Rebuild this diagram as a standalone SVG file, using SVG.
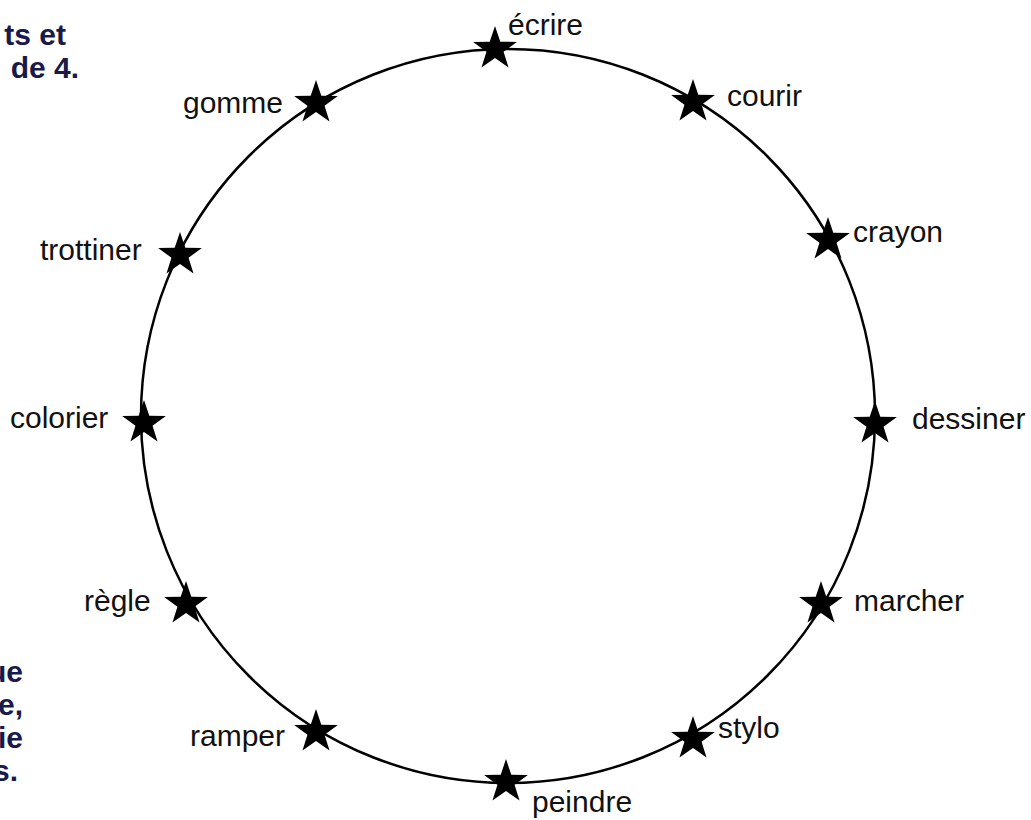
<svg xmlns="http://www.w3.org/2000/svg" width="1031" height="820" viewBox="0 0 1031 820">
<style>
.lbl{font-family:"Liberation Sans",Arial,sans-serif;font-size:30px;fill:#111}
.bold{font-family:"Liberation Sans",Arial,sans-serif;font-size:30px;font-weight:bold;fill:#1a1a4a;text-anchor:end}
.star{fill:#000}
</style>
<defs>
<polygon id="star" points="0,-23 5.29,-7.28 21.87,-7.11 8.56,2.78 13.52,18.61 0,9 -13.52,18.61 -8.56,2.78 -21.87,-7.11 -5.29,-7.28"/>
</defs>
<rect width="1031" height="820" fill="#fff"/>
<g id="side-text">
<text class="bold" x="66" y="45">ts et</text>
<text class="bold" x="79" y="78">de 4.</text>
<text class="bold" x="23" y="682">ue</text>
<text class="bold" x="23" y="715">e,</text>
<text class="bold" x="23" y="748">ie</text>
<text class="bold" x="18" y="781">s.</text>
</g>
<g id="connectors">
<circle cx="508" cy="416" r="367" fill="none" stroke="#000" stroke-width="2.5"/>
</g>
<g id="n-ecrire"><use href="#star" x="495" y="49" class="star"/><text class="lbl" x="508" y="35">écrire</text></g>
<g id="n-courir"><use href="#star" x="693" y="102" class="star"/><text class="lbl" x="727" y="106">courir</text></g>
<g id="n-crayon"><use href="#star" x="828" y="240" class="star"/><text class="lbl" x="853" y="242">crayon</text></g>
<g id="n-dessiner"><use href="#star" x="875" y="424" class="star"/><text class="lbl" x="912" y="429">dessiner</text></g>
<g id="n-marcher"><use href="#star" x="821" y="604" class="star"/><text class="lbl" x="854" y="611">marcher</text></g>
<g id="n-stylo"><use href="#star" x="693" y="739" class="star"/><text class="lbl" x="718" y="738">stylo</text></g>
<g id="n-peindre"><use href="#star" x="506" y="782" class="star"/><text class="lbl" x="532" y="812">peindre</text></g>
<g id="n-ramper"><use href="#star" x="316" y="732" class="star"/><text class="lbl" x="190" y="746">ramper</text></g>
<g id="n-regle"><use href="#star" x="186" y="604" class="star"/><text class="lbl" x="84" y="611">règle</text></g>
<g id="n-colorier"><use href="#star" x="144" y="423" class="star"/><text class="lbl" x="10" y="428">colorier</text></g>
<g id="n-trottiner"><use href="#star" x="180" y="255" class="star"/><text class="lbl" x="40" y="260">trottiner</text></g>
<g id="n-gomme"><use href="#star" x="316" y="103" class="star"/><text class="lbl" x="183" y="113">gomme</text></g>
</svg>
